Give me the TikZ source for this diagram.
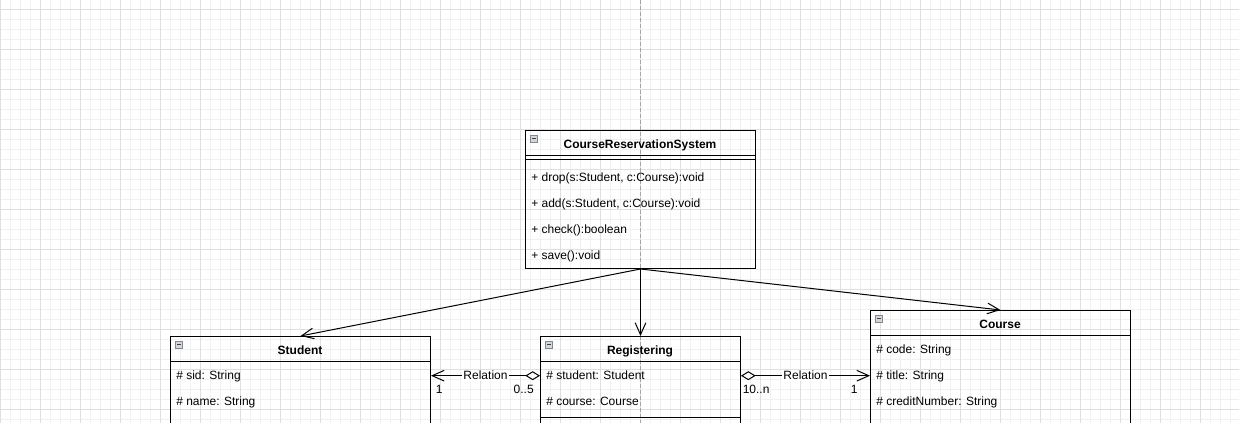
\documentclass[tikz,border=0pt]{standalone}
\usepackage{fontspec}
\setmainfont{Liberation Sans}
\usepackage{tikz}
\usetikzlibrary{arrows.meta}

\definecolor{gridminor}{RGB}{241,241,241}
\definecolor{gridmajor}{RGB}{223,223,223}
\definecolor{guideline}{RGB}{165,165,165}
\definecolor{iconfill}{RGB}{214,214,214}
\definecolor{iconedge}{RGB}{125,138,150}

\tikzset{
  umlbox/.style={draw, line width=0.75pt, rectangle, inner sep=0pt, anchor=north west},
  classname/.style={font=\fontsize{9}{11}\selectfont\bfseries, inner sep=0.75pt, anchor=base},
  member/.style={font=\fontsize{9}{11}\selectfont, inner sep=0.75pt, anchor=base west},
  mult/.style={font=\fontsize{9}{11}\selectfont, inner sep=0.75pt},
  assoc/.style={line width=0.75pt, -{Straight Barb[length=9pt,width=8pt]}},
  aggr/.style={line width=0.75pt, {Diamond[open,length=11pt,width=6.75pt]}-{Straight Barb[length=9pt,width=8pt]}},
  rellabel/.style={font=\fontsize{9}{11}\selectfont, fill=white, inner sep=0.75pt},
}

\begin{document}
\begin{tikzpicture}[x=0.75pt,y=0.75pt,yscale=-1,xscale=1]
\useasboundingbox (0,0) rectangle (1239,423);
\clip (0,0) rectangle (1239,423);

% Grid
\foreach \gx in {0,10,...,1230} \draw[gridminor, line width=0.75pt] (\gx,0) -- (\gx,423);
\foreach \gy in {0,10,...,420} \draw[gridminor, line width=0.75pt] (0,\gy) -- (1239,\gy);
\foreach \gx in {0,40,...,1200} \draw[gridmajor, line width=0.75pt] (\gx,0) -- (\gx,423);
\foreach \gy in {10,50,...,410} \draw[gridmajor, line width=0.75pt] (0,\gy) -- (1239,\gy);

% Page guide
\draw[guideline, line width=0.75pt, dash pattern=on 3pt off 1.5pt] (640,0) -- (640,423);

% Class: CourseReservationSystem
\node[umlbox, minimum width=172.5pt, minimum height=103.5pt] (crs) at (525,130) {};
\draw[line width=0.75pt] (525,156) -- (755,156);
\draw[line width=0.75pt] (525,160) -- (755,160);
\node[classname] (crs-head) at (640,149) {CourseReservationSystem};
\node[member] (crs-drop) at (530,182) {+ drop(s:Student, c:Course):void};
\node[member] (crs-add) at (530,208) {+ add(s:Student, c:Course):void};
\node[member] (crs-check) at (530,234) {+ check():boolean};
\node[member] (crs-save) at (530,260) {+ save():void};

% Class: Student
\node[umlbox, minimum width=195pt, minimum height=90pt] (student) at (170,336) {};
\draw[line width=0.75pt] (170,362) -- (430,362);
\node[classname] (student-head) at (300,355) {Student};
\node[member] (student-sid) at (175,380) {\# sid: String};
\node[member] (student-name) at (175,406) {\# name: String};

% Class: Registering
\node[umlbox, minimum width=150pt, minimum height=85.5pt] (reg) at (540,336) {};
\draw[line width=0.75pt] (540,362) -- (740,362);
\draw[line width=0.75pt] (540,418) -- (740,418);
\node[classname] (reg-head) at (640,355) {Registering};
\node[member] (reg-student) at (545,380) {\# student: Student};
\node[member] (reg-course) at (545,406) {\# course: Course};

% Class: Course
\node[umlbox, minimum width=195pt, minimum height=97.5pt] (course) at (870,310) {};
\draw[line width=0.75pt] (870,336) -- (1130,336);
\node[classname] (course-head) at (1000,329) {Course};
\node[member] (course-code) at (875,354) {\# code: String};
\node[member] (course-title) at (875,380) {\# title: String};
\node[member] (course-credit) at (875,406) {\# creditNumber: String};

% Collapse icons
\foreach \ix/\iy in {525/130,170/336,540/336,870/310} {
  \draw[iconedge, fill=iconfill, line width=0.75pt] (\ix+5.5,\iy+5.5) rectangle (\ix+12.5,\iy+12.5);
  \draw[black!75, line width=0.75pt] (\ix+7,\iy+9) -- (\ix+11,\iy+9);
}

% Dependencies
\draw[assoc] (crs.south) -- (student.north);
\draw[assoc] (crs.south) -- (reg.north);
\draw[assoc] (crs.south) -- (course.north);

% Relations
\draw[aggr] (reg.west |- reg-student) -- (student.east |- reg-student) node[rellabel, midway] (rel-left) {Relation};
\draw[aggr] (reg.east |- reg-student) -- (course.west |- reg-student) node[rellabel, midway] (rel-right) {Relation};

% Multiplicities
\node[mult, anchor=base west] (mult-student) at (434.7,394) {1};
\node[mult, anchor=base east] (mult-reg-left) at (535,394) {0..5};
\node[mult, anchor=base west] (mult-reg-right) at (741.5,394) {10..n};
\node[mult, anchor=base west] (mult-course) at (849.5,394) {1};

\end{tikzpicture}
\end{document}
